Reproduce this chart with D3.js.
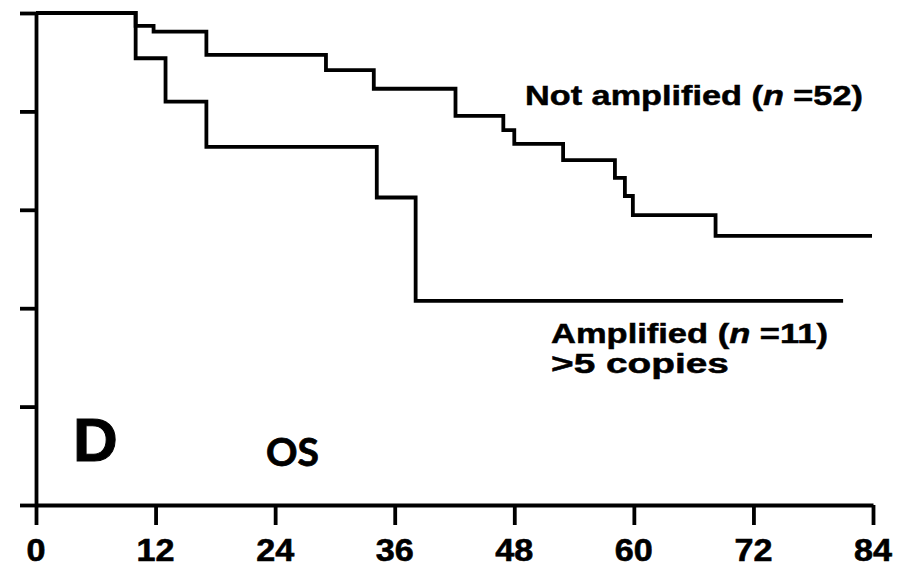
<!DOCTYPE html>
<html>
<head>
<meta charset="utf-8">
<script src="https://cdn.jsdelivr.net/npm/d3@7"></script>
<style>
  html, body { margin: 0; padding: 0; background: #fff; }
  svg { display: block; }
</style>
</head>
<body>
<svg id="chart" width="907" height="568"></svg>
<script>
// Kaplan–Meier overall survival, follow-up in months
const monthTicks = [0, 12, 24, 36, 48, 60, 72, 84];
const survivalTicks = [0, 0.2, 0.4, 0.6, 0.8, 1.0];

// Not amplified (n = 52): event times and survival after each step
const notAmpTimes = [0, 10, 11.8, 17.1, 29.1, 33.9, 42.1, 46.9, 48.0, 52.9, 58.1, 59.1, 59.9, 68.2];
const notAmpSurv  = [1.0, 0.974, 0.962, 0.915, 0.884, 0.846, 0.791, 0.762, 0.734, 0.701, 0.665, 0.628, 0.589, 0.547];
const notAmpLastFollowUp = 83.9;

// Amplified, >5 copies (n = 11)
const ampTimes = [0, 10, 13.0, 17.1, 34.2, 38.1];
const ampSurv  = [1.0, 0.908, 0.820, 0.728, 0.625, 0.415];
const ampLastFollowUp = 81.0;

const svg = d3.select("#chart");
const x = d3.scaleLinear().domain([0, 84]).range([36, 873]);
const y = d3.scaleLinear().domain([0, 1]).range([505, 13]);

const ink = "#000";
const sw = 3.8;
const font = "'Liberation Sans', Arial, Helvetica, sans-serif";

// Axes
const yAxis = d3.axisLeft(y).tickValues(survivalTicks).tickSize(16).tickSizeOuter(0).tickFormat("");
const xAxis = d3.axisBottom(x).tickValues(monthTicks).tickSize(20).tickSizeOuter(0).tickFormat("");

const gy = svg.append("g").attr("transform", "translate(36,0)").call(yAxis);
const gx = svg.append("g").attr("transform", "translate(0,505)").call(xAxis);

[gx, gy].forEach(g => {
  g.select(".domain").attr("stroke", ink).attr("stroke-width", sw);
  g.selectAll(".tick line").attr("stroke", ink).attr("stroke-width", sw);
});

// Month labels, slightly widened bold sans
svg.append("g").selectAll("text")
  .data(monthTicks)
  .join("text")
  .attr("transform", d => `translate(${x(d)},561) scale(1.12,1)`)
  .attr("text-anchor", "middle")
  .attr("font-family", font)
  .attr("font-weight", "bold")
  .attr("font-size", 30.5)
  .attr("fill", ink)
  .attr("stroke", ink).attr("stroke-width", 0.6)
  .text(d => d);

// Survival curves as step functions
const stepLine = d3.line()
  .x(d => x(d[0]))
  .y(d => y(d[1]))
  .curve(d3.curveStepAfter);

function curvePoints(times, surv, lastT) {
  const pts = times.map((t, i) => [t, surv[i]]);
  pts.push([lastT, surv[surv.length - 1]]);
  return pts;
}

svg.append("path")
  .attr("d", stepLine(curvePoints(notAmpTimes, notAmpSurv, notAmpLastFollowUp)))
  .attr("fill", "none").attr("stroke", ink).attr("stroke-width", sw)
  .attr("stroke-linejoin", "miter");

svg.append("path")
  .attr("d", stepLine(curvePoints(ampTimes, ampSurv, ampLastFollowUp)))
  .attr("fill", "none").attr("stroke", ink).attr("stroke-width", sw)
  .attr("stroke-linejoin", "miter");

// Text helper: widens the glyphs horizontally so the label spans a given width
function label(parts, xPos, yPos, width, size) {
  const t = svg.append("text")
    .attr("font-family", font)
    .attr("font-weight", "bold")
    .attr("font-size", size)
    .attr("fill", ink)
    .attr("stroke", ink).attr("stroke-width", 0.5);
  parts.forEach(p => {
    t.append("tspan").text(p.text).attr("font-style", p.italic ? "italic" : "normal");
  });
  const bb = t.node().getBBox();
  const sx = width / bb.width;
  t.attr("transform", `translate(${xPos},${yPos}) scale(${sx},1)`);
  return t;
}

label([{ text: "Not amplified (" }, { text: "n", italic: true }, { text: " =52)" }], 525, 105, 338, 28);
label([{ text: "Amplified (" }, { text: "n", italic: true }, { text: " =11)" }], 551, 343, 277, 28);
label([{ text: ">5 copies" }], 551, 373, 178, 28);

// Panel letter and endpoint
svg.append("text")
  .attr("x", 73).attr("y", 461)
  .attr("font-family", font).attr("font-weight", "bold")
  .attr("font-size", 62).attr("fill", ink)
  .attr("stroke", ink).attr("stroke-width", 1)
  .text("D");

svg.append("text")
  .attr("x", 266).attr("y", 466)
  .attr("font-family", "Lato, 'Open Sans', sans-serif").attr("font-weight", "bold")
  .attr("font-size", 39).attr("fill", ink)
  .attr("stroke", ink).attr("stroke-width", 0.8)
  .text("OS");
</script>
</body>
</html>
